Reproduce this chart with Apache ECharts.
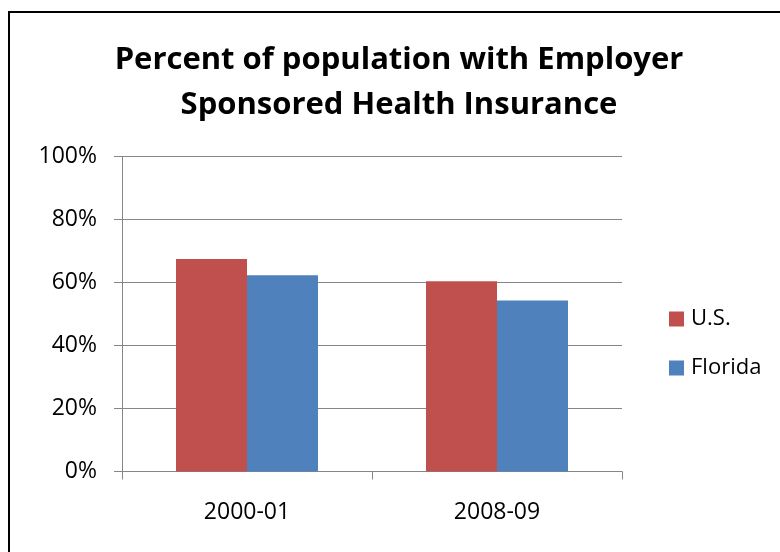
<!DOCTYPE html>
<html>
<head>
<meta charset="utf-8">
<script src="https://cdn.jsdelivr.net/npm/echarts@6/dist/echarts.min.js"></script>
<style>
  html, body { margin: 0; padding: 0; background: #fff; }
  #wrap { position: relative; width: 780px; height: 552px; overflow: hidden; }
  #frame { position: absolute; left: 8px; top: 11px; width: 900px; height: 700px;
           border-left: 2.5px solid #000; border-top: 2.5px solid #000; }
  #chart { position: absolute; left: 0; top: 0; width: 780px; height: 552px; }
</style>
</head>
<body>
<div id="wrap">
  <div id="frame"></div>
  <div id="chart"></div>
</div>
<script>
const categories = ['2000-01', '2008-09'];
const usValues = [67.5, 60.4];
const floridaValues = [62.3, 54.3];
const yTicks = [0, 20, 40, 60, 80, 100];

const FONT = '"Open Sans", sans-serif';

const myChart = echarts.init(document.getElementById('chart'));
const option = {
    animation: false,
    title: {
        text: 'Percent of population with Employer\nSponsored Health Insurance',
        left: 394,
        textAlign: 'center',
        top: 33,
        textStyle: {
            fontFamily: FONT,
            fontWeight: 'bold',
            fontSize: 31,
            lineHeight: 45,
            color: '#000'
        }
    },
    color: ['#C0504D', '#4F81BD'],
    grid: {
        left: 122,
        right: 158,
        top: 156.5,
        bottom: 80.5,
        containLabel: false
    },
    legend: {
        orient: 'vertical',
        left: 664,
        top: 303,
        itemWidth: 15,
        itemHeight: 15,
        itemGap: 27,
        icon: 'rect',
        textStyle: { fontFamily: FONT, fontSize: 22, color: '#000', padding: [0, 0, 0, 2] },
        data: ['U.S.', 'Florida']
    },
    xAxis: {
        type: 'category',
        data: categories,
        axisLine: { lineStyle: { color: '#868686', width: 1 } },
        axisTick: { show: true, length: 8, alignWithLabel: false, lineStyle: { color: '#868686' } },
        axisLabel: { fontFamily: FONT, fontSize: 23, color: '#000', margin: 29 }
    },
    yAxis: {
        type: 'value',
        min: 0,
        max: 100,
        interval: 20,
        axisLine: { show: true, lineStyle: { color: '#868686', width: 1 } },
        axisTick: { show: true, length: 8, lineStyle: { color: '#868686' } },
        axisLabel: {
            fontFamily: FONT, fontSize: 23, color: '#000', margin: 25,
            formatter: function (v) { return yTicks.indexOf(v) >= 0 ? v + '%' : ''; }
        },
        splitLine: { show: true, lineStyle: { color: '#868686', width: 1 } }
    },
    series: [
        {
            name: 'U.S.',
            type: 'bar',
            data: usValues,
            barGap: '0%',
            barCategoryGap: '43.2%'
        },
        {
            name: 'Florida',
            type: 'bar',
            data: floridaValues,
            barGap: '0%',
            barCategoryGap: '43.2%'
        }
    ]
};
myChart.setOption(option);
</script>
</body>
</html>
